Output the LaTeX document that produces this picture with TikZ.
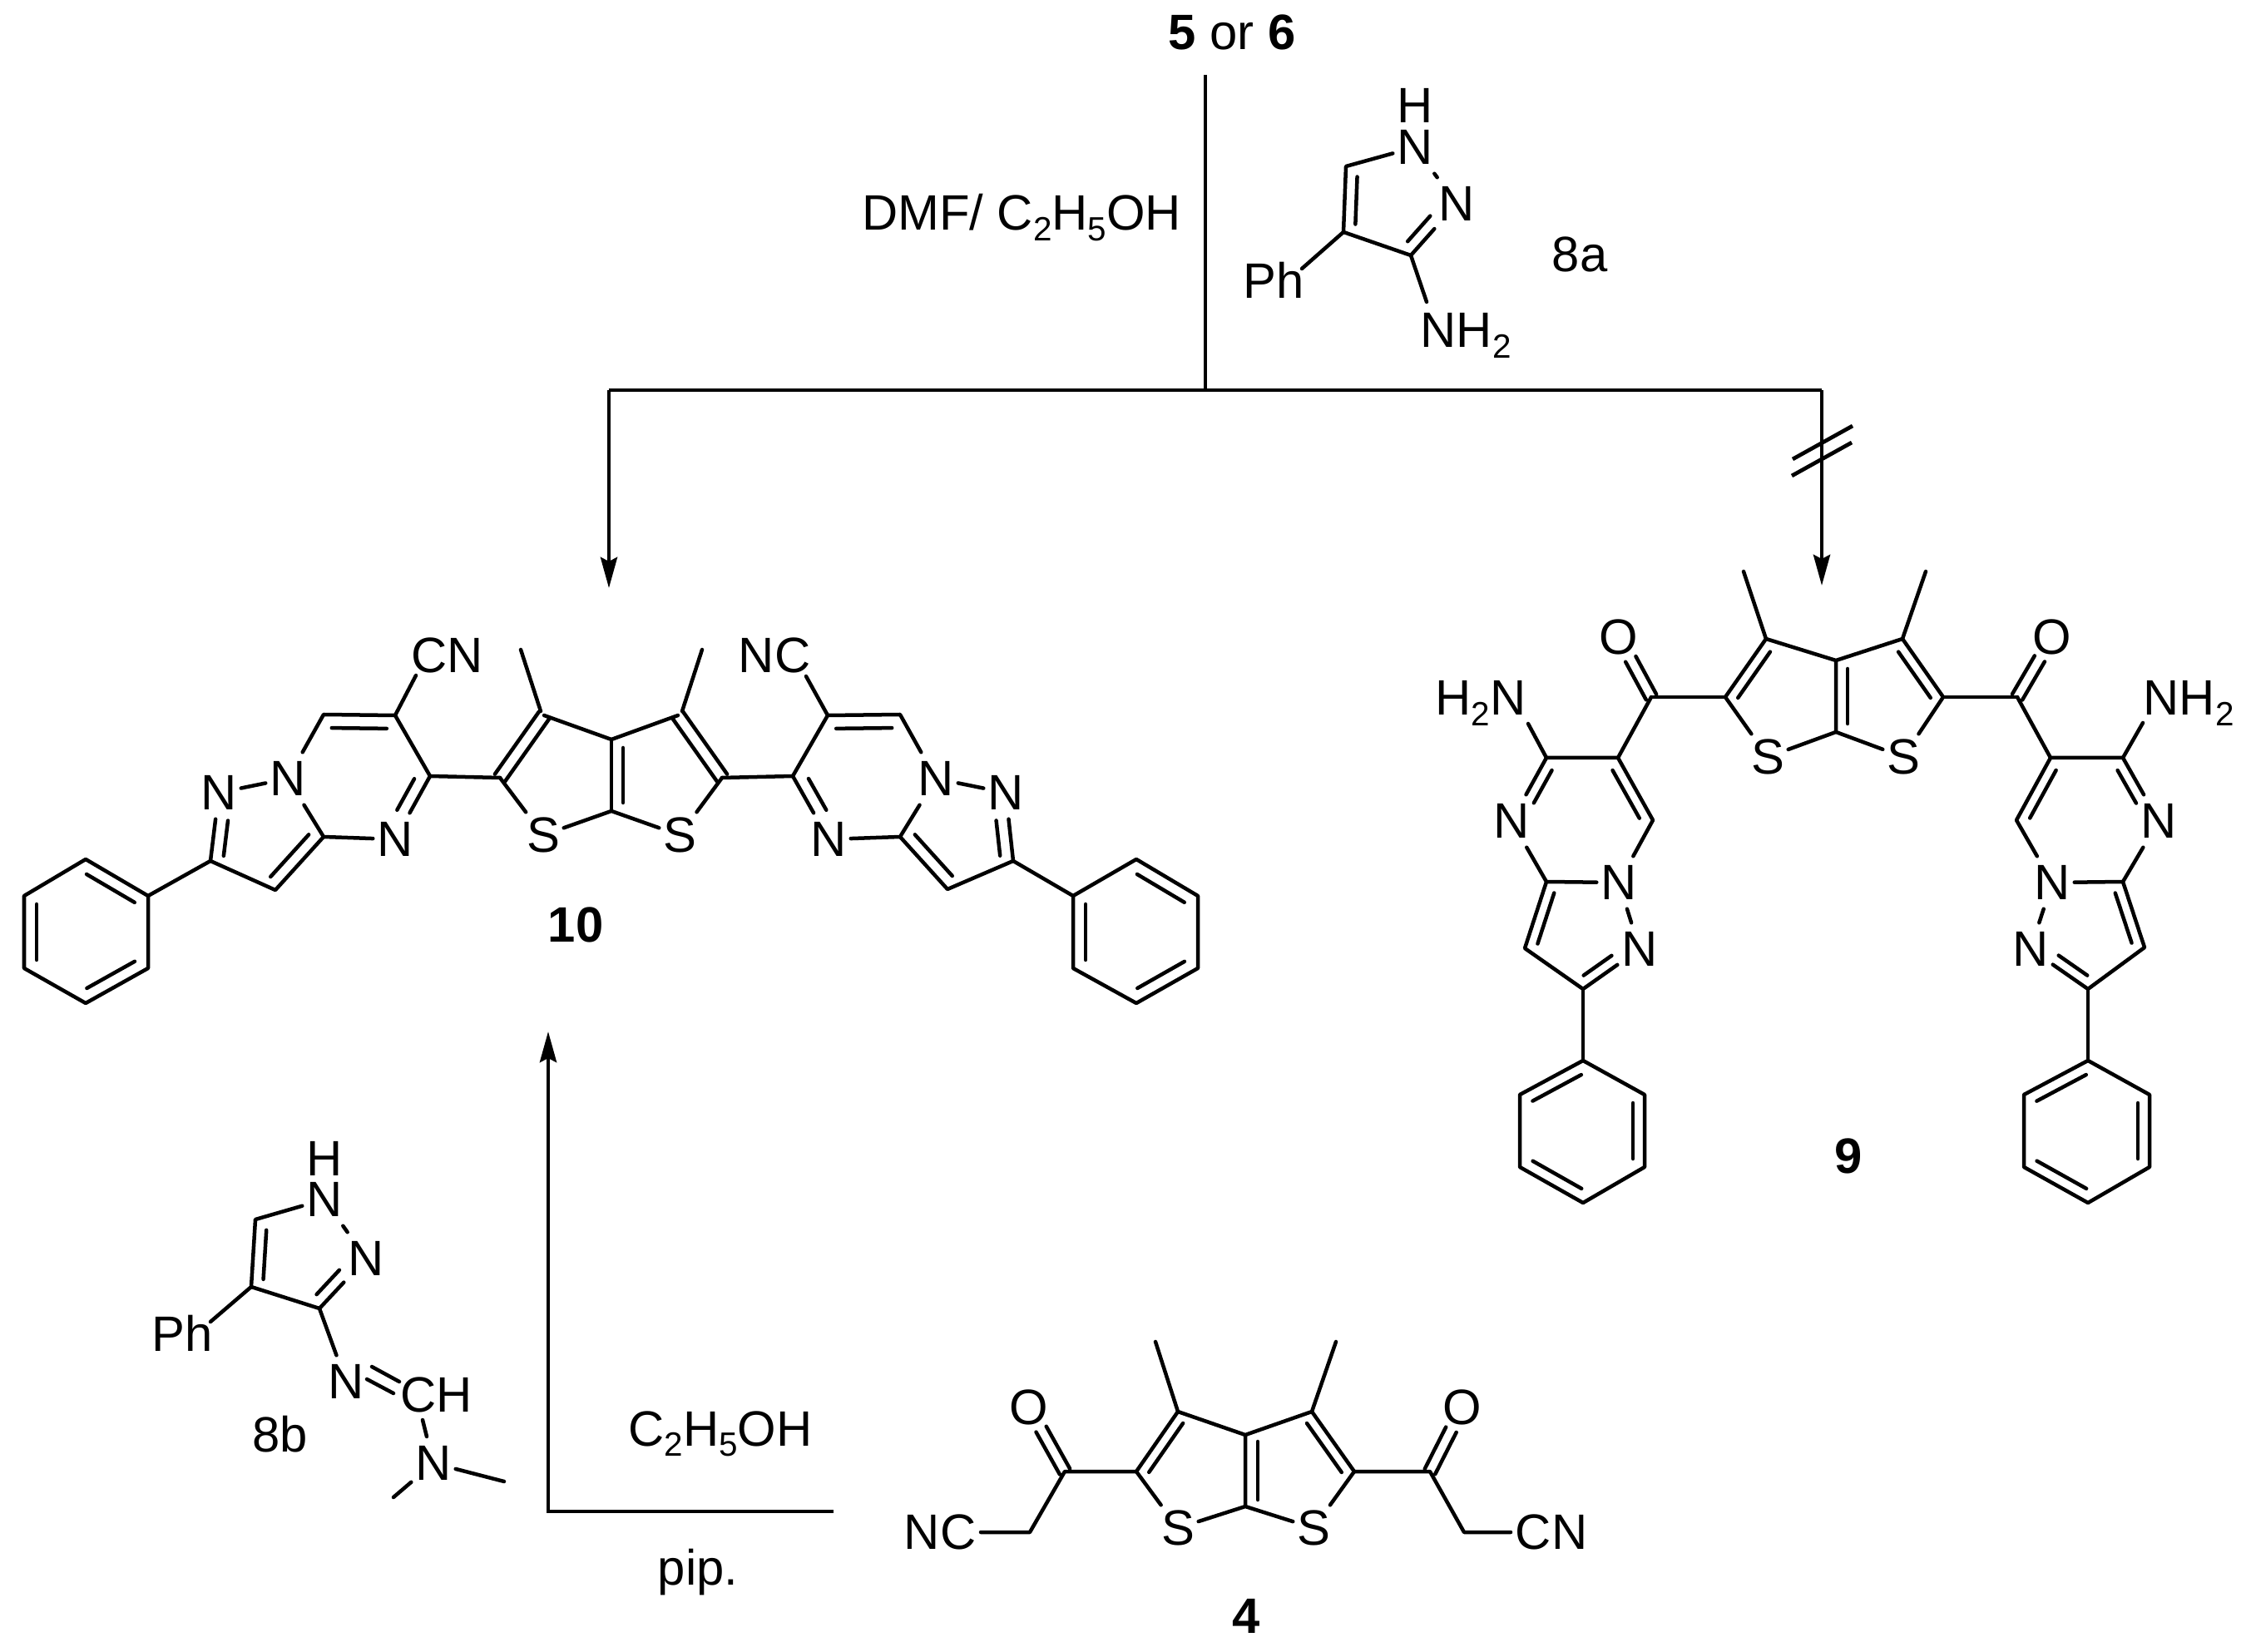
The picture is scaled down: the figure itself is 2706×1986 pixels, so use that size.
\documentclass[tikz,border=0pt]{standalone}
\usepackage{fontspec}
\setmainfont{Liberation Sans}
\usetikzlibrary{calc,arrows.meta}
\newcommand\chemsub[1]{\raisebox{-0.21em}{\fontsize{11.5}{11.5}\selectfont #1}}
% inner line of a double bond: from, to, offset (px, + = left of travel), shorten at from, shorten at to
\newcommand\innerbond[5]{\draw[bond,shorten <=#4*0.01cm,shorten >=#5*0.01cm]
  ($(#1)!#3*0.01cm!90:(#2)$) -- ($(#2)!#3*0.01cm!-90:(#1)$);}
\tikzset{
  x=0.01cm,y=-0.01cm,
  bond/.style={line width=0.045cm,line cap=round,line join=round},
  rxn/.style={line width=0.047cm},
  rxnarrow/.style={rxn,-{Stealth[length=0.37cm,width=0.2cm,inset=0.05cm]}},
  atom/.style={rectangle,inner sep=0pt,minimum width=0.52cm,minimum height=0.62cm,font=\fontsize{17}{17}\selectfont},
  satom/.style={atom,minimum width=0.48cm,minimum height=0.54cm},
  oatom/.style={atom,minimum width=0.5cm,minimum height=0.56cm},
  lab/.style={inner sep=0pt,font=\fontsize{17}{17}\selectfont},
  num/.style={inner sep=0pt,font=\fontsize{17}{17}\selectfont\bfseries},
}
\begin{document}
\begin{tikzpicture}
\useasboundingbox (0,0) rectangle (2706,1986);
% ---------- reaction scheme lines
\node[lab,anchor=base] (start) at (1481,60) {\textbf{5} or \textbf{6}};
\coordinate (vtop) at (1449,90);
\coordinate (vj) at (1449,469);
\coordinate (hl) at (732,469);
\coordinate (hr) at (2190,469);
\coordinate (tipl) at (732,707);
\coordinate (tipr) at (2190,704);
\draw[rxn] (vtop) -- (vj);
\draw[rxn] (hl) -- (hr);
\draw[rxnarrow] (hl) -- (tipl);
\draw[rxnarrow] (hr) -- (tipr);
\coordinate (ha1) at (2155,552); \coordinate (ha2) at (2227,512);
\coordinate (hb1) at (2154,572); \coordinate (hb2) at (2226,532);
\draw[rxn] (ha1) -- (ha2);
\draw[rxn] (hb1) -- (hb2);
\node[lab,anchor=base] (dmf) at (1228,277) {DMF/ C\chemsub{2}H\chemsub{5}OH};
\coordinate (ux1) at (1002,1817);
\coordinate (ux2) at (659,1817);
\coordinate (ux3) at (659,1240);
\draw[rxnarrow,line join=miter] (ux1) -- (ux2) -- (ux3);
\node[lab,anchor=base] (etoh) at (866,1738) {C\chemsub{2}H\chemsub{5}OH};
\node[lab,anchor=base] (pip) at (839,1905) {pip.};
% ---------- 8a
\coordinate (pa1) at (1618,200);
\coordinate (pa2) at (1615,279);
\coordinate (pa3) at (1696,307);
\node[atom] (pan1) at (1701,177) {N};
\node[lab] (pah) at (1701,127) {H};
\node[atom] (pan2) at (1751,245) {N};
\node[lab,anchor=base] (paph) at (1531,359) {Ph};
\node[lab,anchor=base west] (panh) at (1707,418) {NH\chemsub{2}};
\node[lab,anchor=base] (pal) at (1899,327) {8a};
\coordinate (paphe) at (1565,323);
\coordinate (panhe) at (1715,363);
\draw[bond] (pan1) -- (pa1) -- (pa2) -- (pa3) -- (pan2);
\draw[bond] (pan1) -- (pan2);
\draw[bond] (pa2) -- (paphe);
\draw[bond] (pa3) -- (panhe);
\innerbond{pa1}{pa2}{14}{12}{10}
\innerbond{pa3}{pan2}{14}{10}{32}
% ---------- 8b
\coordinate (pb1) at (307,1466);
\coordinate (pb2) at (302,1547);
\coordinate (pb3) at (384,1573);
\node[atom] (pbn1) at (390,1442) {N};
\node[lab] (pbh) at (390,1393) {H};
\node[atom] (pbn2) at (440,1513) {N};
\node[lab,anchor=base] (pbph) at (219,1624) {Ph};
\node[atom] (pbn3) at (416,1661) {N};
\node[lab,anchor=base west] (pbch) at (481,1697) {CH};
\node[atom] (pbn4) at (521,1759) {N};
\node[lab,anchor=base] (pbl) at (337,1745) {8b};
\coordinate (pbphe) at (253,1589);
\coordinate (pbdc1) at (480,1661); \coordinate (pbdn1) at (447,1643);
\coordinate (pbdc2) at (473,1675); \coordinate (pbdn2) at (441,1658);
\coordinate (pbc) at (508,1707); \coordinate (pbce) at (513,1727);
\coordinate (pbm1) at (473,1800);
\coordinate (pbm2) at (606,1781);
\draw[bond] (pbn1) -- (pb1) -- (pb2) -- (pb3) -- (pbn2);
\draw[bond] (pbn1) -- (pbn2);
\draw[bond] (pb2) -- (pbphe);
\draw[bond] (pb3) -- (pbn3);
\draw[bond] (pbdn1) -- (pbdc1);
\draw[bond] (pbdn2) -- (pbdc2);
\draw[bond] (pbc) -- (pbce);
\draw[bond] (pbn4) -- (pbm1);
\draw[bond] (pbn4) -- (pbm2);
\innerbond{pb1}{pb2}{14}{12}{10}
\innerbond{pb3}{pbn2}{14}{10}{32}
% ---------- 10 core
\coordinate (tc2) at (601,935);
\coordinate (tc3) at (654,860);
\coordinate (tm3) at (626,781);
\coordinate (tca) at (735,889);
\coordinate (tcb) at (735,975);
\coordinate (td3) at (815,860);
\coordinate (td2) at (868,935);
\coordinate (tm4) at (844,781);
\node[satom] (ts1) at (653,1004) {S};
\node[satom] (ts2) at (817,1004) {S};
\node[num] (ln10) at (692,1112) {10};
\draw[bond] (ts1) -- (tc2);
\draw[bond] (tc3) -- (tca) -- (td3);
\draw[bond] (td2) -- (ts2) -- (tcb) -- (ts1);
\draw[bond] (tca) -- (tcb);
\coordinate (tb3) at (650,855); \coordinate (tb4) at (820,855);
\draw[bond] (tb3) -- (tm3);
\draw[bond] (tb4) -- (tm4);
\innerbond{tc2}{tc3}{7.5}{0}{0}
\innerbond{tc2}{tc3}{-7.5}{0}{0}
\innerbond{td3}{td2}{7.5}{0}{0}
\innerbond{td3}{td2}{-7.5}{0}{0}
\innerbond{tca}{tcb}{14}{10}{10}
% left pyrimidine + pyrazole + phenyl
\coordinate (la1) at (517,933);
\coordinate (la2) at (475,860);
\coordinate (la3) at (389,859);
\node[atom] (lan1) at (346,936) {N};
\node[atom] (lan2) at (263,953) {N};
\node[atom] (lan3) at (475,1009) {N};
\coordinate (la4) at (389,1006);
\coordinate (la5) at (331,1070);
\coordinate (la6) at (253,1035);
\node[lab] (lacn) at (538,788) {CN};
\coordinate (lacne) at (500,812);
\coordinate (lp1) at (178,1077);
\coordinate (lp2) at (103,1033);
\coordinate (lp3) at (29,1077);
\coordinate (lp4) at (29,1164);
\coordinate (lp5) at (103,1206);
\coordinate (lp6) at (178,1164);
\draw[bond] (tc2) -- (la1) -- (la2) -- (la3) -- (lan1) -- (la4) -- (la5) -- (la6) -- (lan2);
\draw[bond] (lan1) -- (lan2);
\draw[bond] (la4) -- (lan3) -- (la1);
\draw[bond] (la2) -- (lacne);
\draw[bond] (la6) -- (lp1);
\draw[bond] (lp1) -- (lp2) -- (lp3) -- (lp4) -- (lp5) -- (lp6) -- cycle;
\innerbond{la2}{la3}{16}{10}{10}
\innerbond{la1}{lan3}{-15}{12}{32}
\innerbond{la4}{la5}{-15}{10}{8}
\innerbond{la6}{lan2}{-15}{8}{32}
\innerbond{lp1}{lp2}{15}{10}{10}
\innerbond{lp3}{lp4}{15}{10}{10}
\innerbond{lp5}{lp6}{15}{10}{10}
% right pyrimidine + pyrazole + phenyl
\coordinate (ra1) at (953,933);
\coordinate (ra2) at (995,860);
\coordinate (ra3) at (1082,859);
\node[atom] (ran1) at (1125,936) {N};
\node[atom] (ran2) at (1209,953) {N};
\node[atom] (ran3) at (996,1009) {N};
\coordinate (ra4) at (1082,1006);
\coordinate (ra5) at (1139,1069);
\coordinate (ra6) at (1218,1035);
\node[lab] (racn) at (931,788) {NC};
\coordinate (racne) at (969,813);
\coordinate (rp1) at (1290,1077);
\coordinate (rp2) at (1366,1033);
\coordinate (rp3) at (1440,1077);
\coordinate (rp4) at (1440,1164);
\coordinate (rp5) at (1366,1206);
\coordinate (rp6) at (1290,1164);
\draw[bond] (td2) -- (ra1) -- (ra2) -- (ra3) -- (ran1) -- (ra4) -- (ra5) -- (ra6) -- (ran2);
\draw[bond] (ran1) -- (ran2);
\draw[bond] (ra4) -- (ran3) -- (ra1);
\draw[bond] (ra2) -- (racne);
\draw[bond] (ra6) -- (rp1);
\draw[bond] (rp1) -- (rp2) -- (rp3) -- (rp4) -- (rp5) -- (rp6) -- cycle;
\innerbond{ra2}{ra3}{-16}{10}{10}
\innerbond{ra1}{ran3}{15}{12}{32}
\innerbond{ra4}{ra5}{15}{10}{8}
\innerbond{ra6}{ran2}{15}{8}{32}
\innerbond{rp2}{rp3}{-15}{10}{10}
\innerbond{rp1}{rp6}{15}{10}{10}
\innerbond{rp4}{rp5}{-15}{10}{10}
% ---------- 9 core
\coordinate (nca) at (2207,794);
\coordinate (ncb) at (2207,880);
\coordinate (nc3) at (2123,768);
\coordinate (nd3) at (2287,768);
\coordinate (nm3) at (2096,687);
\coordinate (nm4) at (2315,687);
\coordinate (nc2) at (2074,838);
\coordinate (nd2) at (2336,838);
\node[satom] (ns1) at (2125,910) {S};
\node[satom] (ns2) at (2288,910) {S};
\coordinate (nco1) at (1985,838);
\coordinate (nco2) at (2425,838);
\node[oatom] (no1) at (1946,766) {O};
\node[oatom] (no2) at (2467,766) {O};
\node[num] (ln9) at (2222,1390) {9};
\draw[bond] (nca) -- (nc3) -- (nc2) -- (ns1) -- (ncb) -- (ns2) -- (nd2) -- (nd3) -- (nca) -- (ncb);
\draw[bond] (nc3) -- (nm3);
\draw[bond] (nd3) -- (nm4);
\draw[bond] (nc2) -- (nco1);
\draw[bond] (nd2) -- (nco2);
\innerbond{nc3}{nc2}{13}{10}{8}
\innerbond{nd2}{nd3}{13}{8}{10}
\innerbond{nca}{ncb}{14}{10}{10}
\innerbond{nco1}{no1}{7}{0}{30}
\innerbond{nco1}{no1}{-7}{0}{30}
\innerbond{nco2}{no2}{7}{0}{30}
\innerbond{nco2}{no2}{-7}{0}{30}
% 9 left
\coordinate (na1) at (1945,911);
\coordinate (na2) at (1859,911);
\node[atom] (nan1) at (1817,987) {N};
\coordinate (na3) at (1859,1060);
\node[atom] (nan2) at (1946,1061) {N};
\coordinate (na4) at (1987,986);
\node[atom] (nan3) at (1971,1141) {N};
\coordinate (na5) at (1833,1140);
\coordinate (na6) at (1903,1189);
\node[lab,anchor=base east] (nanh) at (1835,860) {H\chemsub{2}N};
\coordinate (nanhe) at (1837,870);
\coordinate (np1) at (1903,1275);
\coordinate (np2) at (1977,1316);
\coordinate (np3) at (1977,1403);
\coordinate (np4) at (1903,1446);
\coordinate (np5) at (1827,1403);
\coordinate (np6) at (1827,1316);
\draw[bond] (nco1) -- (na1) -- (na2) -- (nan1) -- (na3) -- (nan2) -- (nan3) -- (na6) -- (na5) -- (na3);
\draw[bond] (na1) -- (na4) -- (nan2);
\draw[bond] (na2) -- (nanhe);
\draw[bond] (na6) -- (np1);
\draw[bond] (np1) -- (np2) -- (np3) -- (np4) -- (np5) -- (np6) -- cycle;
\innerbond{na2}{nan1}{13}{10}{32}
\innerbond{na1}{na4}{-13}{10}{10}
\innerbond{na3}{na5}{13}{10}{10}
\innerbond{na6}{nan3}{13}{10}{32}
\innerbond{np1}{np6}{14}{10}{10}
\innerbond{np2}{np3}{-14}{10}{10}
\innerbond{np4}{np5}{-14}{10}{10}
% 9 right
\coordinate (oa1) at (2465,911);
\coordinate (oa2) at (2552,911);
\node[atom] (oan1) at (2595,987) {N};
\coordinate (oa3) at (2552,1060);
\node[atom] (oan2) at (2467,1061) {N};
\coordinate (oa4) at (2424,986);
\node[atom] (oan3) at (2441,1141) {N};
\coordinate (oa5) at (2578,1139);
\coordinate (oa6) at (2510,1189);
\node[lab,anchor=base west] (oanh) at (2576,860) {NH\chemsub{2}};
\coordinate (oanhe) at (2576,869);
\coordinate (op1) at (2510,1275);
\coordinate (op2) at (2584,1316);
\coordinate (op3) at (2584,1403);
\coordinate (op4) at (2510,1446);
\coordinate (op5) at (2433,1403);
\coordinate (op6) at (2433,1316);
\draw[bond] (nco2) -- (oa1) -- (oa2) -- (oan1) -- (oa3) -- (oan2) -- (oan3) -- (oa6) -- (oa5) -- (oa3);
\draw[bond] (oa1) -- (oa4) -- (oan2);
\draw[bond] (oa2) -- (oanhe);
\draw[bond] (oa6) -- (op1);
\draw[bond] (op1) -- (op2) -- (op3) -- (op4) -- (op5) -- (op6) -- cycle;
\innerbond{oa2}{oan1}{-13}{10}{32}
\innerbond{oa1}{oa4}{13}{10}{10}
\innerbond{oa3}{oa5}{-13}{10}{10}
\innerbond{oa6}{oan3}{-13}{10}{32}
\innerbond{op1}{op6}{14}{10}{10}
\innerbond{op2}{op3}{-14}{10}{10}
\innerbond{op4}{op5}{-14}{10}{10}
% ---------- 4
\coordinate (fca) at (1497,1725);
\coordinate (fcb) at (1497,1811);
\coordinate (fc3) at (1416,1697);
\coordinate (fd3) at (1577,1697);
\coordinate (fm3) at (1389,1613);
\coordinate (fm4) at (1606,1613);
\coordinate (fc2) at (1366,1769);
\coordinate (fd2) at (1628,1769);
\node[satom] (fs1) at (1416,1837) {S};
\node[satom] (fs2) at (1579,1837) {S};
\coordinate (fco1) at (1280,1769);
\coordinate (fco2) at (1719,1769);
\node[oatom] (fo1) at (1237,1692) {O};
\node[oatom] (fo2) at (1758,1692) {O};
\coordinate (fh1) at (1238,1842);
\coordinate (fh2) at (1760,1842);
\node[lab] (fnc) at (1130,1842) {NC};
\node[lab] (fcn) at (1865,1842) {CN};
\coordinate (fnce) at (1179,1842);
\coordinate (fcne) at (1816,1842);
\node[num] (ln4) at (1498,1943) {4};
\draw[bond] (fca) -- (fc3) -- (fc2) -- (fs1) -- (fcb) -- (fs2) -- (fd2) -- (fd3) -- (fca) -- (fcb);
\draw[bond] (fc3) -- (fm3);
\draw[bond] (fd3) -- (fm4);
\draw[bond] (fc2) -- (fco1) -- (fh1) -- (fnce);
\draw[bond] (fd2) -- (fco2) -- (fh2) -- (fcne);
\innerbond{fc3}{fc2}{13}{8}{8}
\innerbond{fd2}{fd3}{13}{8}{8}
\innerbond{fca}{fcb}{15}{8}{8}
\innerbond{fco1}{fo1}{7}{0}{30}
\innerbond{fco1}{fo1}{-7}{0}{30}
\innerbond{fco2}{fo2}{7}{0}{30}
\innerbond{fco2}{fo2}{-7}{0}{30}
\end{tikzpicture}
\end{document}
